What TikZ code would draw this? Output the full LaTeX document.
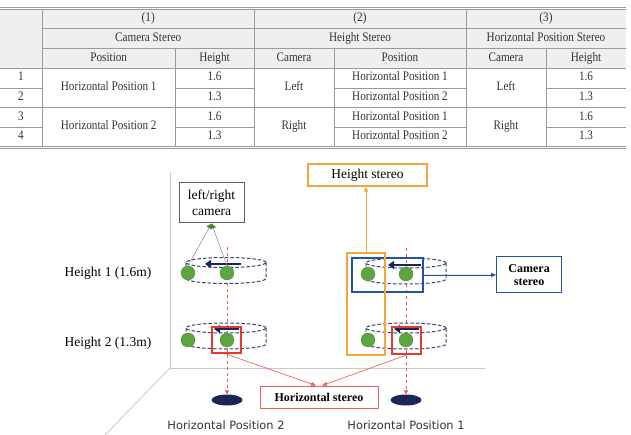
\documentclass[tikz,border=0pt]{standalone}
\usepackage{fontspec}
\setmainfont{Liberation Serif}
\newfontfamily\posfont{DejaVu Sans}
\newfontfamily\tabfont[FakeStretch=0.86]{Liberation Serif}
\usetikzlibrary{arrows.meta,positioning,shapes.geometric}
\definecolor{navyc}{HTML}{1B2656}
\definecolor{ringc}{HTML}{34406E}
\definecolor{redc}{HTML}{E63B2E}
\definecolor{bluec}{HTML}{2353A3}
\definecolor{orangec}{HTML}{F3A73A}
\definecolor{greenc}{HTML}{5EA541}
\definecolor{camc}{HTML}{5B6650}
\definecolor{rulec}{HTML}{9A9A9A}
\definecolor{headc}{HTML}{EFEFEF}
\definecolor{axisc}{HTML}{C8C8C8}

\begin{document}
\begin{tikzpicture}[x=1pt,y=1pt,>=Stealth,font=\fontsize{13.5}{15.5}\selectfont,
 regla/.style={draw=rulec,line width=0.7pt},
 celda/.style={font=\tabfont\fontsize{13}{14}\selectfont,text=black!80,inner sep=0pt,text height=8.5pt,text depth=2.5pt},
 bola/.style={circle,fill=greenc,draw=greenc!80!black,line width=0.3pt,minimum size=14pt,inner sep=0pt},
 anillo/.style={draw=ringc,line width=1pt,dash pattern=on 3.5pt off 2pt},
 pics/aro/.style={code={
   \draw[anillo] (0,8) ellipse[x radius=40,y radius=5];
   \draw[anillo] (-40,8) -- (-40,-8) arc[start angle=180,end angle=360,x radius=40,y radius=5] -- (40,8);}},
 mov/.style={draw=navyc,line width=2.6pt,-{Triangle[length=6pt,width=8pt]}},
 guia/.style={draw=redc!85,dashed,line width=0.8pt,-{Triangle[length=4pt,width=4pt]}},
 marca/.style={ellipse,fill=navyc,minimum width=31pt,minimum height=11pt,inner sep=0pt},
 caja/.style={draw,line width=1pt,align=center,inner sep=0pt},
 marco/.style={draw,line width=2.2pt,inner sep=0pt},
 fina/.style={line width=0.7pt,-{Triangle[length=5pt,width=4pt]}},
 hilo/.style={draw=gray,line width=0.5pt,-{Triangle[length=5pt,width=6pt,color=greenc!80!black]}}]
\useasboundingbox (0,0) rectangle (631,-435);

% table
\fill[headc] (0,-9.3) rectangle (626,-68);
\draw[regla] (0,-7.3) -- (626,-7.3);
\draw[regla] (0,-9.5) -- (626,-9.5);
\draw[regla] (0,-146) -- (626,-146);
\draw[regla] (0,-148.5) -- (626,-148.5);
\draw[regla] (42.5,-28.5) -- (626,-28.5);
\draw[regla] (42.5,-48.5) -- (626,-48.5);
\draw[regla] (0,-68) -- (626,-68);
\draw[regla] (0,-107.5) -- (626,-107.5);
\foreach \y in {88,127}{
  \draw[regla] (0,-\y) -- (42.5,-\y);
  \draw[regla] (175,-\y) -- (254,-\y);
  \draw[regla] (334,-\y) -- (466,-\y);
  \draw[regla] (546,-\y) -- (626,-\y);
}
\foreach \x in {42.5,254,466} \draw[regla] (\x,-9.5) -- (\x,-146);
\foreach \x in {175,334,546} \draw[regla] (\x,-48.5) -- (\x,-146);
\foreach \x/\y/\t [count=\n] in {148.25/18.5/{(1)},360/18.5/{(2)},546/18.5/{(3)},
  148.25/38.5/Camera Stereo,360/38.5/Height Stereo,546/38.5/Horizontal Position Stereo,
  108.75/58.25/Position,214.5/58.25/Height,294/58.25/Camera,400/58.25/Position,506/58.25/Camera,586/58.25/Height}
  \node[celda] (cab\n) at (\x,-\y) {\t};
\foreach \y/\i/\a/\p/\b [count=\n] in {78/1/1.6/Horizontal Position 1/1.6,97.75/2/1.3/Horizontal Position 2/1.3,
  117.25/3/1.6/Horizontal Position 1/1.6,136.5/4/1.3/Horizontal Position 2/1.3}{
  \node[celda] (num\n) at (21,-\y) {\i};
  \node[celda] (alt\n) at (214.5,-\y) {\a};
  \node[celda] (pos\n) at (400,-\y) {\p};
  \node[celda] (hgt\n) at (586,-\y) {\b};
}
\node[celda] (lugar1) at (108.75,-88) {Horizontal Position 1};
\node[celda] (lugar2) at (108.75,-127) {Horizontal Position 2};
\node[celda] (lado1) at (294,-88) {Left};
\node[celda] (lado2) at (294,-127) {Right};
\node[celda] (lado3) at (506,-88) {Left};
\node[celda] (lado4) at (506,-127) {Right};

% figure
\coordinate (origen) at (170,-368);
\draw[axisc,line width=0.8pt] (170,-172) -- (origen) -- (485,-368);
\draw[axisc,line width=0.8pt] (origen) -- (105,-435);
\node (h1) at (108,-273) {Height 1 (1.6m)};
\node (h2) at (108,-343) {Height 2 (1.3m)};

\pic at (226,-270.5) {aro};
\pic at (226,-336) {aro};
\pic at (406,-271) {aro};
\pic at (406,-336) {aro};

\node[marca] (sitio2) at (227,-400) {};
\node[marca] (sitio1) at (406,-400) {};
\coordinate (tope2) at (227,-247);
\coordinate (tope1) at (406,-248);
\draw[guia] (tope2) -- (sitio2.north);
\draw[guia] (tope1) -- (sitio1.north);

\node[bola] (i1) at (188,-273) {};
\node[bola] (d1) at (227,-273) {};
\node[bola] (i2) at (188,-340) {};
\node[bola] (d2) at (227,-340) {};
\node[bola] (i3) at (368,-274) {};
\node[bola] (d3) at (406,-274) {};
\node[bola] (i4) at (368,-340) {};
\node[bola] (d4) at (406,-340) {};

\draw[mov] (241,-264) -- (205,-264);
\draw[mov] (421,-265) -- (388,-265);
\draw[mov] (239,-329) -- (214,-329);
\draw[mov] (419,-329) -- (394,-329);

\node[marco,draw=redc,minimum width=29pt,minimum height=26pt] (rojo2) at (226.5,-340) {};
\node[marco,draw=redc,minimum width=29pt,minimum height=27pt] (rojo1) at (406.5,-340.5) {};
\node[marco,draw=bluec,minimum width=71pt,minimum height=34pt] (azul) at (387.5,-275) {};
\node[marco,draw=orangec,minimum width=38pt,minimum height=102pt] (naranja) at (366,-304) {};

\node[caja,draw=camc,minimum width=65pt,minimum height=40pt] (camara) at (211.5,-203) {left/right\\camera};
\node[caja,draw=orangec,line width=1.3pt,minimum width=119pt,minimum height=22pt] (altura) at (367.5,-175) {Height stereo};
\node[caja,draw=bluec,minimum width=65pt,minimum height=36pt,font=\bfseries\fontsize{12}{13.5}\selectfont,right=72pt of azul] (estereo) {Camera\\stereo};
\node[caja,draw=redc!80,minimum width=118pt,minimum height=22pt,font=\bfseries\fontsize{12}{14}\selectfont] (horiz) at (319,-397) {Horizontal stereo};

\draw[hilo] (i1.north) -- (camara.south);
\draw[hilo] (d1.north) -- (camara.south);
\draw[fina,draw=orangec,fill=orangec] (naranja.north) -- (naranja.north |- altura.south);
\draw[fina,draw=bluec,fill=bluec] (azul.east) -- (estereo.west);
\draw[fina,draw=redc!80,fill=redc!80,line width=0.6pt] (rojo2.south) -- ([xshift=-3pt]horiz.north);
\draw[fina,draw=redc!80,fill=redc!80,line width=0.6pt] (rojo1.south) -- ([xshift=3pt]horiz.north);

\node[font=\posfont\fontsize{11.4}{13}\selectfont,text=black!80] (nombre2) at (226,-425) {Horizontal Position 2};
\node[font=\posfont\fontsize{11.4}{13}\selectfont,text=black!80] (nombre1) at (406,-425) {Horizontal Position 1};
\end{tikzpicture}
\end{document}
